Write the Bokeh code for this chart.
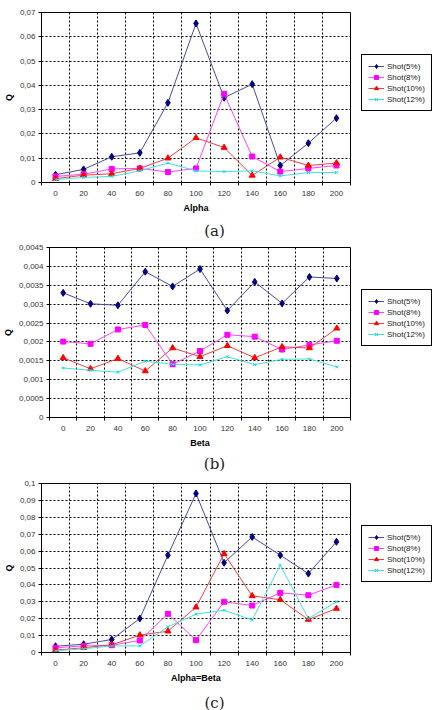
from bokeh.plotting import figure
from bokeh.layouts import column, row
from bokeh.models import (FixedTicker, CustomJSTickFormatter, Legend, LegendItem, Label, Range1d)
from bokeh.embed import file_html
from bokeh.resources import INLINE

# ---------------- data ----------------
x_vals = [0, 20, 40, 60, 80, 100, 120, 140, 160, 180, 200]
x_bounds = [-10, 10, 30, 50, 70, 90, 110, 130, 150, 170, 190, 210]
series_names = ["Shot(5%)", "Shot(8%)", "Shot(10%)", "Shot(12%)"]

# (a) Q vs Alpha
a_s5 = [0.0032, 0.0054, 0.0106, 0.0122, 0.0328, 0.0655, 0.0349, 0.0405, 0.0070, 0.0162, 0.0265]
a_s8 = [0.0025, 0.0034, 0.0056, 0.0058, 0.0043, 0.0058, 0.0365, 0.0107, 0.0045, 0.0058, 0.0070]
a_s10 = [0.0016, 0.0030, 0.0036, 0.0058, 0.0100, 0.0184, 0.0144, 0.0029, 0.0104, 0.0070, 0.0080]
a_s12 = [0.0012, 0.0021, 0.0025, 0.0048, 0.0080, 0.0048, 0.0045, 0.0048, 0.0027, 0.0041, 0.0041]
a_yticks = [0, 0.01, 0.02, 0.03, 0.04, 0.05, 0.06, 0.07]

# (b) Q vs Beta
b_s5 = [0.00330, 0.00301, 0.00297, 0.00386, 0.00347, 0.00393, 0.00283, 0.00359, 0.00302, 0.00372, 0.00368]
b_s8 = [0.00201, 0.00195, 0.00233, 0.00245, 0.00141, 0.00176, 0.00219, 0.00214, 0.00180, 0.00192, 0.00203]
b_s10 = [0.00158, 0.00129, 0.00156, 0.00123, 0.00184, 0.00161, 0.00190, 0.00158, 0.00187, 0.00184, 0.00236]
b_s12 = [0.00131, 0.00125, 0.00120, 0.00149, 0.00141, 0.00139, 0.00161, 0.00140, 0.00154, 0.00155, 0.00134]
b_yticks = [0, 0.0005, 0.001, 0.0015, 0.002, 0.0025, 0.003, 0.0035, 0.004, 0.0045]

# (c) Q vs Alpha=Beta
c_s5 = [0.0037, 0.0049, 0.0077, 0.0201, 0.0576, 0.0941, 0.0531, 0.0684, 0.0576, 0.0467, 0.0655]
c_s8 = [0.0028, 0.0039, 0.0043, 0.0071, 0.0229, 0.0073, 0.0300, 0.0278, 0.0353, 0.0339, 0.0400]
c_s10 = [0.0014, 0.0028, 0.0045, 0.0103, 0.0126, 0.0268, 0.0584, 0.0335, 0.0312, 0.0195, 0.0260]
c_s12 = [0.0010, 0.0022, 0.0039, 0.0039, 0.0152, 0.0227, 0.0250, 0.0193, 0.0517, 0.0201, 0.0300]
c_yticks = [0, 0.01, 0.02, 0.03, 0.04, 0.05, 0.06, 0.07, 0.08, 0.09, 0.1]

# ---------------- styles ----------------
line_colors = ["#4a4aa0", "#ff44ff", "#f04040", "#44e0e0"]
mark_colors = ["#000080", "#ff00ff", "#ff0000", "#00e0e0"]
markers = ["diamond", "square", "triangle", "x"]
msizes = [7, 5, 6, 4]
FONT = "Liberation Sans"

fmt = CustomJSTickFormatter(code="""
    var s = parseFloat(tick.toPrecision(10)).toString();
    return s.replace('.', ',');
""")


def draw_series(p, series):
    rends = []
    for i, ys in enumerate(series):
        lr = p.line(x_vals, ys, line_color=line_colors[i], line_width=1)
        if markers[i] == "x":
            sr = p.scatter(x_vals, ys, marker="x", size=msizes[i], line_color=mark_colors[i], line_width=1)
        else:
            sr = p.scatter(x_vals, ys, marker=markers[i], size=msizes[i],
                           fill_color=mark_colors[i], line_color=mark_colors[i])
        rends.append((lr, sr))
    return rends


def make_panel(series, yticks, xlabel, caption, top, left, fh, leg_bottom, cap_y):
    bottom = 35
    height = top + fh + bottom
    p = figure(width=351, height=height, output_backend="svg",
               toolbar_location=None, min_border_left=left, min_border_top=top,
               min_border_bottom=bottom, min_border_right=1,
               x_range=Range1d(-10, 210), y_range=Range1d(yticks[0], yticks[-1]))
    p.background_fill_color = "white"
    p.border_fill_color = "white"
    p.outline_line_color = "black"
    p.outline_line_width = 1

    # axes
    p.xaxis.ticker = FixedTicker(ticks=x_vals, minor_ticks=x_bounds)
    p.xaxis.major_tick_out = 0
    p.xaxis.major_tick_in = 0
    p.xaxis.minor_tick_out = 3
    p.xaxis.minor_tick_in = 0
    p.xaxis.axis_label = xlabel
    p.yaxis.ticker = FixedTicker(ticks=yticks)
    p.yaxis.formatter = fmt
    p.yaxis.minor_tick_out = 0
    p.yaxis.minor_tick_in = 0
    p.yaxis.major_tick_out = 3
    p.yaxis.major_tick_in = 0
    p.yaxis.axis_label = "Q"
    for ax in (p.xaxis[0], p.yaxis[0]):
        ax.axis_line_color = "black"
        ax.major_tick_line_color = "black"
        ax.minor_tick_line_color = "black"
        ax.major_label_text_font = FONT
        ax.major_label_text_font_size = "8px"
        ax.major_label_text_color = "#333333"
        ax.axis_label_text_font = FONT
        ax.axis_label_text_font_size = "9px"
        ax.axis_label_text_font_style = "bold"
        ax.axis_label_text_color = "black"
    p.xaxis.major_label_standoff = 5
    p.xaxis.axis_label_standoff = 4
    p.yaxis.major_label_standoff = 3
    p.yaxis.axis_label_standoff = 3

    # grids
    p.xgrid.ticker = FixedTicker(ticks=x_bounds)
    p.ygrid.ticker = FixedTicker(ticks=yticks)
    for g in (p.xgrid[0], p.ygrid[0]):
        g.grid_line_color = "black"
        g.grid_line_dash = "2 2"
        g.grid_line_width = 1

    draw_series(p, series)

    # legend panel (separate canvas to the right of the plot area)
    lg = figure(width=82, height=height, output_backend="svg", toolbar_location=None,
                x_axis_type=None, y_axis_type=None,
                min_border_left=0, min_border_right=0, min_border_top=0, min_border_bottom=0,
                x_range=Range1d(-10, 210), y_range=Range1d(10, 11))
    lg.outline_line_color = None
    lg.grid.visible = False
    rends = draw_series(lg, series)
    items = [LegendItem(label=series_names[i], renderers=[lr, sr]) for i, (lr, sr) in enumerate(rends)]
    leg = Legend(items=items, location=(10, leg_bottom))
    leg.label_text_font = FONT
    leg.label_text_font_size = "8px"
    leg.label_text_color = "#222222"
    leg.glyph_width = 16
    leg.glyph_height = 10
    leg.label_height = 10
    leg.label_standoff = 3
    leg.spacing = 1
    leg.padding = 6
    leg.margin = 0
    leg.border_line_color = "black"
    leg.border_line_alpha = 1.0
    leg.border_line_width = 1
    leg.background_fill_color = "white"
    leg.background_fill_alpha = 1.0
    lg.add_layout(leg, "center")

    # caption strip
    cp = figure(width=433, height=23, output_backend="svg", toolbar_location=None,
                x_axis_type=None, y_axis_type=None,
                min_border_left=0, min_border_right=0, min_border_top=0, min_border_bottom=0,
                x_range=Range1d(0, 1), y_range=Range1d(0, 1))
    cp.outline_line_color = None
    cp.grid.visible = False
    cp.add_layout(Label(x=214, y=cap_y, x_units="screen", y_units="screen",
                        text=caption, text_align="center", text_baseline="middle",
                        text_font="DejaVu Serif", text_font_size="15px", text_color="#222222"))
    return column(row(p, lg, spacing=0), cp, spacing=0)


pa = make_panel([a_s5, a_s8, a_s10, a_s12], a_yticks, "Alpha", "(a)", 12, 37, 170, 71, 10)
pb = make_panel([b_s5, b_s8, b_s10, b_s12], b_yticks, "Beta", "(b)", 7, 46, 170, 71, 12)
pc = make_panel([c_s5, c_s8, c_s10, c_s12], c_yticks, "Alpha=Beta", "(c)", 8, 37, 169, 70, 8)

layout = column(pa, pb, pc, spacing=0)
open("out.html", "w").write(file_html(layout, INLINE))
